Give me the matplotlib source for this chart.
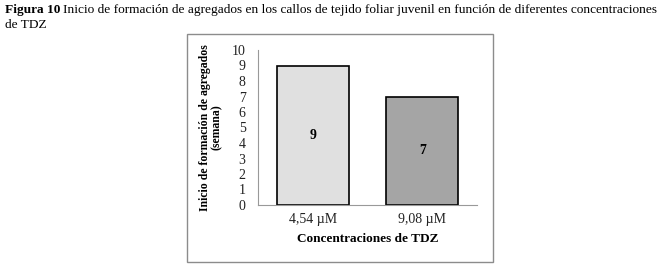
import matplotlib.pyplot as plt
from matplotlib.patches import Rectangle

categories = ["4,54 µM", "9,08 µM"]
values = [9, 7]
bar_colors = ["#e0e0e0", "#a5a5a5"]

plt.rcParams['font.family'] = ['Liberation Serif', 'DejaVu Serif']

fig = plt.figure(figsize=(6.65, 2.69), dpi=100)

# caption above the chart: bold prefix then normal text
x0, y0 = 5/665, 1 - 4/269
head = fig.text(x0, y0, "Figura 10", fontsize=9.6, fontweight="bold", va="top", ha="left")
r = fig.canvas.get_renderer()
w = head.get_window_extent(renderer=r).width / fig.bbox.width
fig.text(x0 + w + 3/665, y0,
         "Inicio de formación de agregados en los callos de tejido foliar juvenil en función de diferentes concentraciones",
         fontsize=9.6, va="top", ha="left")
fig.text(x0, y0 - 15/269, "de TDZ", fontsize=9.6, va="top", ha="left")

# gray frame around the chart
fig.add_artist(Rectangle((187/665, 1 - 262/269), (493 - 187)/665, (262 - 34)/269,
                         transform=fig.transFigure, fill=False, edgecolor="#8c8c8c", lw=1))

ax = fig.add_axes([258/665, 1 - 205/269, (477 - 258)/665, (205 - 50)/269])
x = range(len(categories))
bars = ax.bar(x, values, width=0.66, color=bar_colors, edgecolor="black", linewidth=1.2)
for b, v in zip(bars, values):
    ax.text(b.get_x() + b.get_width() / 2, v / 2, str(v), ha="center", va="center",
            fontsize=10, fontweight="bold")

ax.set_xlim(-0.5, 1.5)
ax.set_ylim(0, 10)
ax.set_yticks(range(0, 11))
ax.set_xticks(list(x))
ax.set_xticklabels(categories)
ax.tick_params(axis="both", length=0, labelsize=10, colors="#222222")
ax.tick_params(axis="y", pad=9)
ax.tick_params(axis="x", pad=6)
for s in ["top", "right"]:
    ax.spines[s].set_visible(False)
ax.spines["left"].set_color("#999999")
ax.spines["bottom"].set_color("#999999")
ax.set_ylabel("Inicio de formación de agregados\n(semana)", fontsize=8.5, fontweight="bold", linespacing=1.0, labelpad=6)
ax.set_xlabel("Concentraciones de TDZ", fontsize=9.5, fontweight="bold", labelpad=5)

fig.savefig("out.png", dpi=100)
